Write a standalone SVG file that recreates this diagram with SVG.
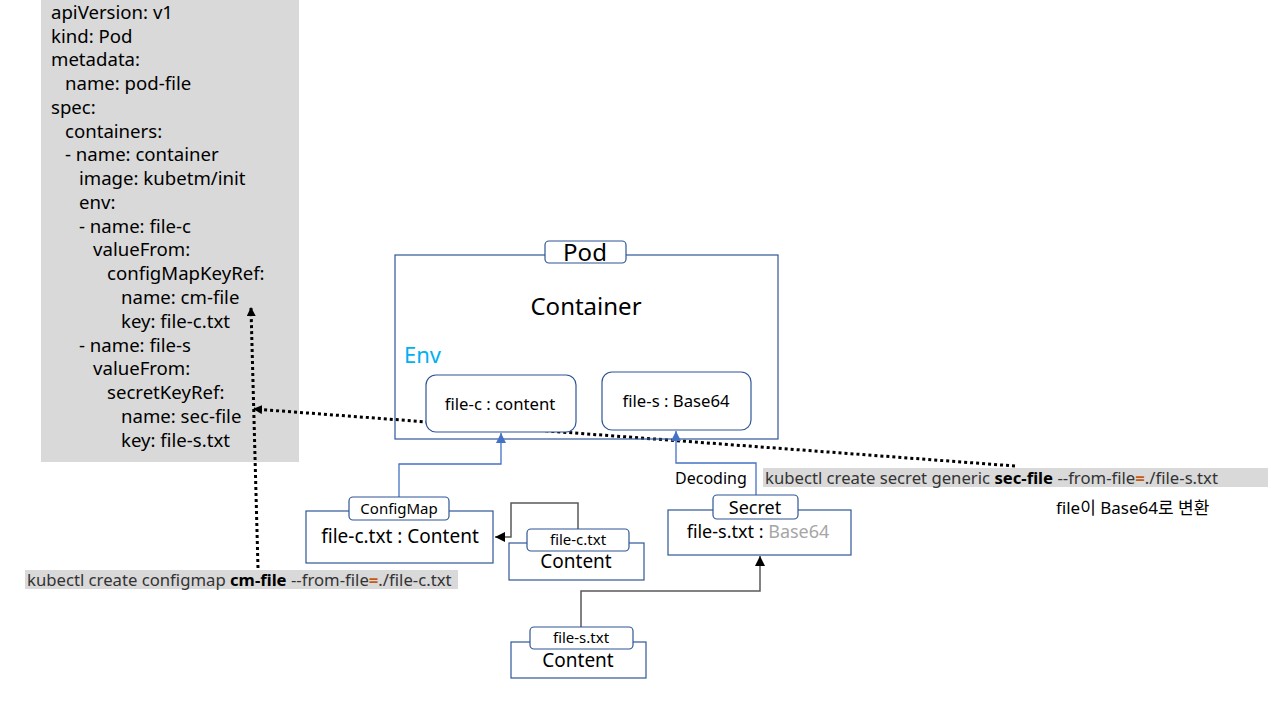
<svg xmlns="http://www.w3.org/2000/svg" width="1271" height="703" viewBox="0 0 1271 703">
<defs>
<style>
text{font-family:"Noto Sans","Noto Sans CJK KR",sans-serif;fill:#000}
.yaml{font-size:18.6px}
.box{fill:#fff;stroke:#2f5597;stroke-width:1.2}
.lbl{fill:#fff;stroke:#2f5597;stroke-width:1.2}
.c{text-anchor:middle}
.blue{fill:none;stroke:#4472c4;stroke-width:1.3}
.gray{fill:none;stroke:#595959;stroke-width:1.5}
.dot{fill:none;stroke:#000;stroke-width:3;stroke-dasharray:3 3}
.cmd{font-size:16.7px;fill:#333}
</style>
<marker id="ab" viewBox="0 0 10 10" refX="10" refY="5" markerWidth="10" markerHeight="10" markerUnits="userSpaceOnUse" orient="auto"><path d="M0,0L10,5L0,10z" fill="#4472c4"/></marker>
<marker id="ak" viewBox="0 0 10 10" refX="10" refY="5" markerWidth="10" markerHeight="10" markerUnits="userSpaceOnUse" orient="auto"><path d="M0,0L10,5L0,10z" fill="#000"/></marker>
<marker id="ad" viewBox="0 0 10 10" refX="9" refY="5" markerWidth="9" markerHeight="9" markerUnits="userSpaceOnUse" orient="auto"><path d="M0,0L10,5L0,10z" fill="#000"/></marker>
</defs>
<rect width="1271" height="703" fill="#fff"/>
<g id="yaml">
<rect x="41" y="0" width="258" height="462" fill="#d9d9d9"/>
<g class="yaml">
<text x="51" y="19">apiVersion: v1</text>
<text x="51" y="43">kind: Pod</text>
<text x="51" y="66">metadata:</text>
<text x="65" y="90">name: pod-file</text>
<text x="51" y="114">spec:</text>
<text x="65" y="138">containers:</text>
<text x="65" y="161">- name: container</text>
<text x="79" y="185">image: kubetm/init</text>
<text x="79" y="209">env:</text>
<text x="79" y="233">- name: file-c</text>
<text x="93" y="256">valueFrom:</text>
<text x="107" y="280">configMapKeyRef:</text>
<text x="121" y="304">name: cm-file</text>
<text x="121" y="328">key: file-c.txt</text>
<text x="79" y="352">- name: file-s</text>
<text x="93" y="375">valueFrom:</text>
<text x="107" y="399">secretKeyRef:</text>
<text x="121" y="423">name: sec-file</text>
<text x="121" y="447">key: file-s.txt</text>
</g>
</g>
<g id="connectors">
<path class="dot" d="M1015,466L254,409" marker-end="url(#ad)"/>
<path class="dot" d="M258,568L251,308" marker-end="url(#ad)"/>
</g>
<g id="pod">
<rect x="395" y="255" width="383" height="184" fill="none" stroke="#2f5597" stroke-width="1.2"/>
<rect class="lbl" x="545" y="241" width="81" height="22" rx="4"/>
<text class="c" x="585" y="261" font-size="24">Pod</text>
<text class="c" x="586" y="315" font-size="24">Container</text>
<text x="404" y="363" font-size="22" style="fill:#00b0f0">Env</text>
</g>
<g id="env-file-c">
<rect class="box" x="426" y="375" width="150" height="57" rx="10"/>
<text class="c" x="500" y="410" font-size="16.7">file-c : content</text>
</g>
<g id="env-file-s">
<rect class="box" x="602" y="372" width="149" height="58" rx="10"/>
<text class="c" x="676" y="407" font-size="16.7">file-s : Base64</text>
</g>
<g id="connectors2">
<path class="blue" d="M399,497V464H501V433" marker-end="url(#ab)"/>
<path class="blue" d="M756,495V463H676V431" marker-end="url(#ab)"/>
<path class="gray" d="M578,529V503H511V537H495" marker-end="url(#ak)"/>
<path class="gray" d="M581,627V591H760V556" marker-end="url(#ak)"/>
</g>
<g id="configmap">
<rect class="box" x="306" y="511" width="187" height="52"/>
<rect class="lbl" x="349" y="497" width="100" height="23" rx="4"/>
<text class="c" x="399" y="514" font-size="15">ConfigMap</text>
<text class="c" x="400" y="543" font-size="19">file-c.txt : Content</text>
</g>
<g id="file-c-txt">
<rect class="box" x="509" y="543" width="135" height="37"/>
<rect class="lbl" x="527" y="529" width="102" height="22" rx="4"/>
<text class="c" x="578" y="545" font-size="15">file-c.txt</text>
<text class="c" x="576" y="568" font-size="19">Content</text>
</g>
<g id="secret">
<rect class="box" x="668" y="510" width="183" height="45"/>
<rect class="lbl" x="713" y="495" width="85" height="24" rx="4"/>
<text class="c" x="755" y="514" font-size="18">Secret</text>
<text class="c" x="758" y="538" font-size="18">file-s.txt : <tspan style="fill:#a6a6a6">Base64</tspan></text>
</g>
<g id="decoding">
<text x="675" y="484" font-size="16">Decoding</text>
</g>
<g id="file-s-txt">
<rect class="box" x="511" y="642" width="135" height="36"/>
<rect class="lbl" x="530" y="627" width="103" height="22" rx="4"/>
<text class="c" x="581" y="643" font-size="15">file-s.txt</text>
<text class="c" x="578" y="667" font-size="19">Content</text>
</g>
<g id="cmd-configmap">
<rect x="25" y="570" width="433" height="19" fill="#d9d9d9"/>
<text class="cmd" x="27" y="586">kubectl create configmap <tspan font-weight="bold" style="fill:#000">cm-file</tspan> --from-file<tspan font-weight="bold" style="fill:#c55a11">=</tspan>./file-c.txt</text>
</g>
<g id="cmd-secret">
<rect x="763" y="468" width="505" height="19" fill="#d9d9d9"/>
<text class="cmd" x="765" y="484">kubectl create secret generic <tspan font-weight="bold" style="fill:#000">sec-file</tspan> --from-file<tspan font-weight="bold" style="fill:#c55a11">=</tspan>./file-s.txt</text>
</g>
<g id="note">
<text x="1056" y="514" font-size="17">file이 Base64로 변환</text>
</g>
</svg>
